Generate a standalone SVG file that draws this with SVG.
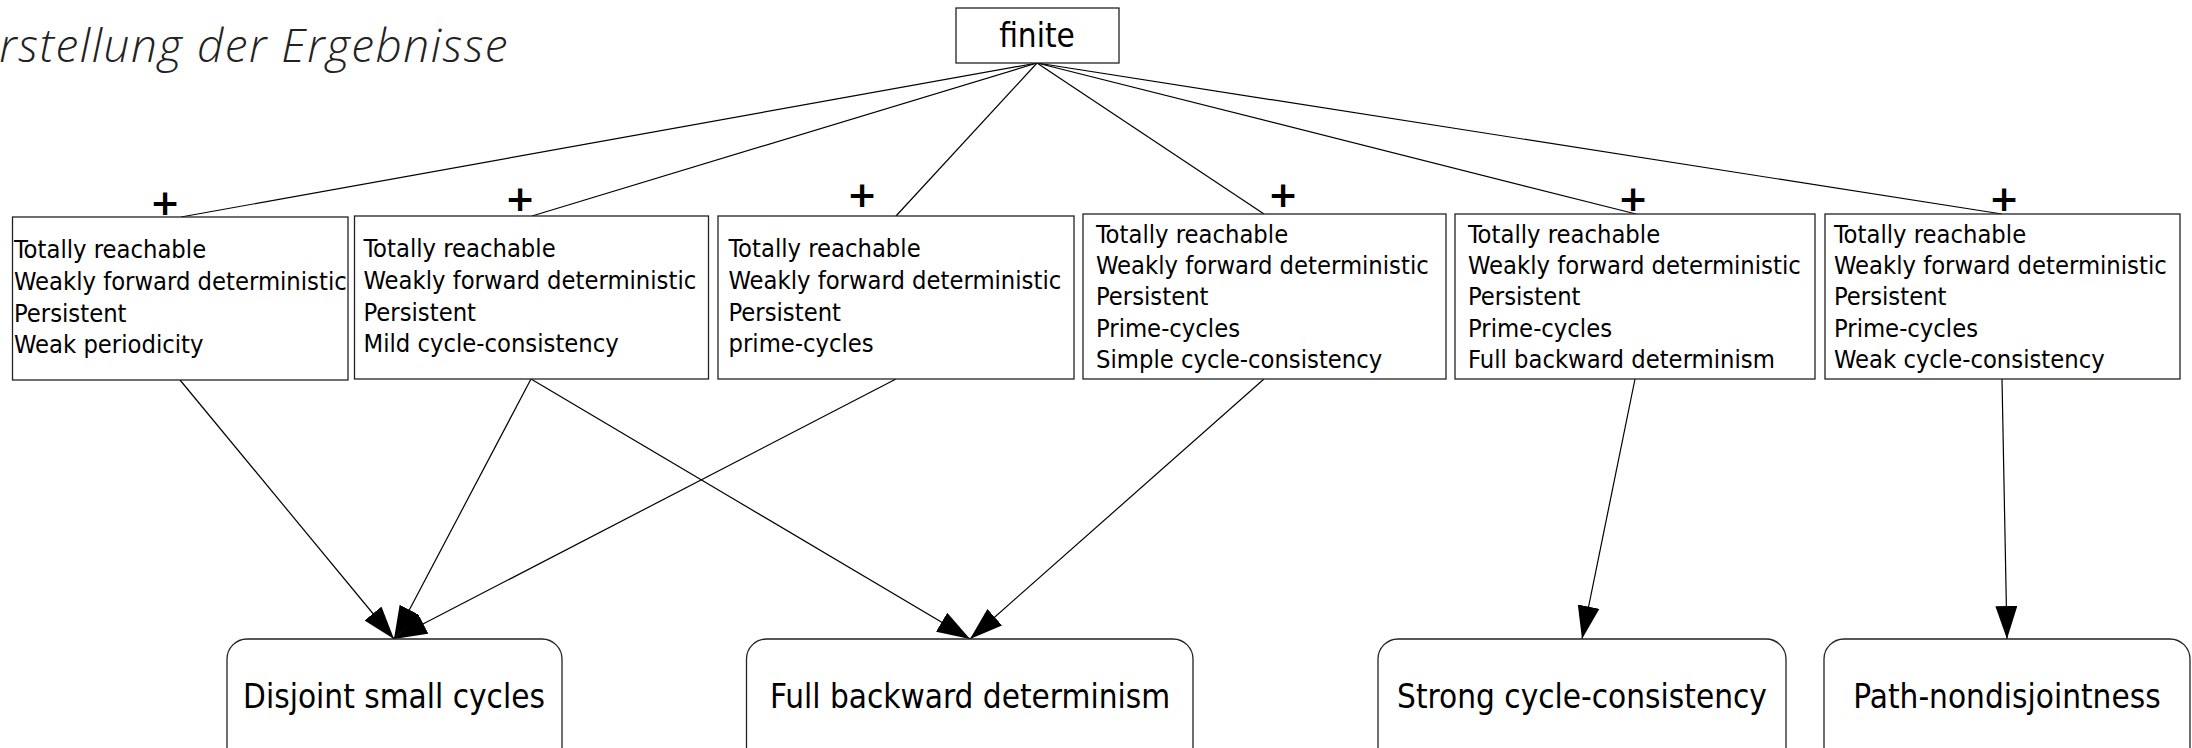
<svg xmlns="http://www.w3.org/2000/svg" width="2192" height="748" viewBox="0 0 2192 748">
<style>
.bg{fill:#fff}
.box{fill:#fff;stroke:#222;stroke-width:1.3}
.t{font-family:"DejaVu Sans Condensed","DejaVu Sans",sans-serif;font-size:25.3px;fill:#000}
.big{font-family:"DejaVu Sans Condensed","DejaVu Sans",sans-serif;font-size:33px;fill:#000;text-anchor:middle}
.plus{font-family:"DejaVu Sans","Liberation Sans",sans-serif;font-weight:bold;font-size:36px;fill:#000;text-anchor:middle}
.title{font-family:"Open Sans","Noto Sans",sans-serif;font-style:italic;font-weight:300;font-size:46px;letter-spacing:1.5px;fill:#222;text-anchor:end}
.e{stroke:#000;stroke-width:1.2;fill:none}
.a{stroke:#000;stroke-width:1.2;fill:none;marker-end:url(#ah)}
</style>
<defs>
<marker id="ah" markerUnits="userSpaceOnUse" markerWidth="36" markerHeight="24" refX="33" refY="11" orient="auto">
<path d="M0,0 L33,11 L0,22 Z" fill="#000"/>
</marker>
</defs>
<rect class="bg" x="0" y="0" width="2192" height="748"/>
<text class="title" x="509" y="62">Darstellung der Ergebnisse</text>

<g id="connectors">
<line class="e" x1="1037" y1="63" x2="181" y2="217"/>
<line class="e" x1="1037" y1="63" x2="532" y2="216"/>
<line class="e" x1="1037" y1="63" x2="896" y2="216"/>
<line class="e" x1="1037" y1="63" x2="1264" y2="214"/>
<line class="e" x1="1037" y1="63" x2="1636" y2="214"/>
<line class="e" x1="1037" y1="63" x2="2002" y2="214"/>
<line class="a" x1="180" y1="380" x2="394" y2="639"/>
<line class="a" x1="531" y1="379" x2="394" y2="639"/>
<line class="a" x1="896" y1="379" x2="394" y2="639"/>
<line class="a" x1="531" y1="379" x2="970" y2="639"/>
<line class="a" x1="1264" y1="379" x2="970" y2="639"/>
<line class="a" x1="1635" y1="379" x2="1582" y2="639"/>
<line class="a" x1="2002" y1="379" x2="2007" y2="639"/>
</g>

<g id="finite">
<rect class="box" x="956" y="8" width="163" height="55"/>
<text class="big" x="1037" y="47">finite</text>
</g>

<g id="box1">
<text class="plus" x="165" y="215">+</text>
<rect class="box" x="12.5" y="217" width="335.5" height="163"/>
<text class="t" x="14" y="258">Totally reachable</text>
<text class="t" x="14" y="290">Weakly forward deterministic</text>
<text class="t" x="14" y="322">Persistent</text>
<text class="t" x="14" y="353">Weak periodicity</text>
</g>

<g id="box2">
<text class="plus" x="520" y="211">+</text>
<rect class="box" x="354.5" y="216" width="354" height="163"/>
<text class="t" x="363.5" y="257">Totally reachable</text>
<text class="t" x="363.5" y="289">Weakly forward deterministic</text>
<text class="t" x="363.5" y="321">Persistent</text>
<text class="t" x="363.5" y="352">Mild cycle-consistency</text>
</g>

<g id="box3">
<text class="plus" x="862" y="207">+</text>
<rect class="box" x="718" y="216" width="356" height="163"/>
<text class="t" x="728.5" y="257">Totally reachable</text>
<text class="t" x="728.5" y="289">Weakly forward deterministic</text>
<text class="t" x="728.5" y="321">Persistent</text>
<text class="t" x="728.5" y="352">prime-cycles</text>
</g>

<g id="box4">
<text class="plus" x="1283" y="207">+</text>
<rect class="box" x="1083" y="214" width="363" height="165"/>
<text class="t" x="1096" y="243">Totally reachable</text>
<text class="t" x="1096" y="274">Weakly forward deterministic</text>
<text class="t" x="1096" y="305">Persistent</text>
<text class="t" x="1096" y="337">Prime-cycles</text>
<text class="t" x="1096" y="368">Simple cycle-consistency</text>
</g>

<g id="box5">
<text class="plus" x="1633" y="211">+</text>
<rect class="box" x="1455" y="214" width="360" height="165"/>
<text class="t" x="1468" y="243">Totally reachable</text>
<text class="t" x="1468" y="274">Weakly forward deterministic</text>
<text class="t" x="1468" y="305">Persistent</text>
<text class="t" x="1468" y="337">Prime-cycles</text>
<text class="t" x="1468" y="368">Full backward determinism</text>
</g>

<g id="box6">
<text class="plus" x="2004" y="211">+</text>
<rect class="box" x="1825" y="214" width="355" height="165"/>
<text class="t" x="1834" y="243">Totally reachable</text>
<text class="t" x="1834" y="274">Weakly forward deterministic</text>
<text class="t" x="1834" y="305">Persistent</text>
<text class="t" x="1834" y="337">Prime-cycles</text>
<text class="t" x="1834" y="368">Weak cycle-consistency</text>
</g>

<g id="disjoint">
<rect class="box" x="227" y="639" width="335" height="160" rx="20"/>
<text class="big" x="394" y="708">Disjoint small cycles</text>
</g>
<g id="fullbackward">
<rect class="box" x="746.5" y="639" width="446.5" height="160" rx="20"/>
<text class="big" x="970" y="708">Full backward determinism</text>
</g>
<g id="strong">
<rect class="box" x="1378" y="639" width="408" height="160" rx="20"/>
<text class="big" x="1582" y="708">Strong cycle-consistency</text>
</g>
<g id="pathnd">
<rect class="box" x="1824" y="639" width="366" height="160" rx="20"/>
<text class="big" x="2007" y="708">Path-nondisjointness</text>
</g>
</svg>
